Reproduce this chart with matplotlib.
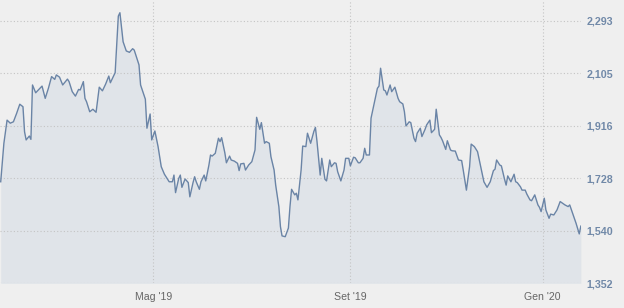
import matplotlib
matplotlib.use('Agg')
import matplotlib.pyplot as plt
import pandas as pd

plt.rcParams['font.family'] = ['Liberation Sans', 'DejaVu Sans']

# giorni dal 2019-01-01 e prezzi
days = [24, 26, 28, 30, 32, 34, 36, 38, 39, 40, 42, 43, 44, 46, 48, 50, 52, 54, 56, 58,
        59, 61, 63, 66, 67, 69, 71, 73, 74, 76, 77, 78, 80, 82, 84, 86, 88, 90, 92, 93,
        96, 98, 99, 101, 103, 105, 107, 108, 111, 112, 115, 116, 118, 119, 121, 123, 125, 127, 130, 132,
        133, 134, 136, 137, 138, 140, 142, 143, 145, 146, 147, 149, 150, 152, 153, 155, 156, 157, 159, 161,
        162, 163, 165, 166, 168, 169, 171, 173, 174, 175, 177, 178, 180, 182, 184, 185, 187, 188, 190, 191,
        193, 194, 196, 197, 199, 200, 201, 203, 205, 206, 207, 209, 210, 211, 213, 214, 216, 217, 219, 221,
        222, 223, 225, 226, 228, 229, 231, 232, 234, 235, 236, 238, 240, 241, 243, 244, 246, 247, 249, 250,
        252, 253, 254, 256, 257, 259, 261, 262, 263, 265, 266, 267, 269, 270, 272, 274, 275, 277, 278, 279,
        281, 282, 284, 285, 286, 288, 289, 291, 292, 294, 295, 297, 298, 300, 301, 302, 304, 305, 307, 308,
        310, 312, 314, 315, 317, 319, 320, 322, 324, 326, 328, 330, 332, 334, 335, 336, 338, 339, 341, 342,
        343, 345, 347, 348, 349, 351, 352, 354, 355, 357, 358, 360, 362, 363, 364, 366, 367, 369, 370, 372,
        374, 376, 377, 379, 381, 382, 384, 386, 388, 389]
prices = [1716, 1854, 1937, 1926, 1931, 1961, 1994, 1985, 1895, 1866, 1880, 1868, 2063, 2035, 2047, 2059, 2015, 2051, 2093, 2083,
          2099, 2091, 2063, 2084, 2075, 2039, 2023, 2047, 2045, 2075, 2015, 2003, 1967, 1976, 1965, 2055, 2042, 2066, 2095, 2071,
          2107, 2310, 2322, 2218, 2185, 2180, 2193, 2188, 2135, 2063, 2012, 1908, 1959, 1866, 1898, 1842, 1770, 1743, 1716, 1716,
          1740, 1677, 1728, 1740, 1696, 1726, 1713, 1662, 1713, 1734, 1716, 1689, 1716, 1740, 1719, 1776, 1812, 1808, 1818, 1872,
          1860, 1874, 1820, 1784, 1808, 1794, 1790, 1782, 1756, 1780, 1782, 1758, 1776, 1788, 1830, 1947, 1904, 1928, 1854, 1860,
          1854, 1806, 1758, 1704, 1627, 1555, 1522, 1519, 1550, 1627, 1689, 1669, 1675, 1651, 1758, 1844, 1842, 1890, 1854, 1896,
          1911, 1860, 1740, 1800, 1725, 1719, 1794, 1770, 1784, 1782, 1752, 1719, 1758, 1800, 1800, 1773, 1804, 1802, 1784, 1784,
          1800, 1836, 1812, 1812, 1944, 1997, 2051, 2059, 2123, 2045, 2042, 2027, 2063, 2039, 2055, 2015, 2003, 1995, 1967, 1916,
          1931, 1928, 1872, 1860, 1890, 1908, 1878, 1904, 1920, 1937, 1892, 1904, 1976, 1884, 1875, 1863, 1832, 1863, 1830, 1827,
          1826, 1794, 1792, 1758, 1686, 1770, 1851, 1842, 1824, 1770, 1716, 1696, 1716, 1756, 1761, 1794, 1776, 1773, 1725, 1704,
          1737, 1716, 1743, 1716, 1713, 1698, 1686, 1686, 1672, 1651, 1648, 1669, 1633, 1624, 1609, 1657, 1615, 1585, 1600, 1597,
          1615, 1645, 1641, 1633, 1627, 1633, 1600, 1567, 1529, 1557]

ytick_vals = [1352, 1540, 1728, 1916, 2105, 2293]
ytick_labels = ['1,352', '1,540', '1,728', '1,916', '2,105', '2,293']
# primo giorno di borsa del mese
xtick_dates = ['2019-05-01', '2019-09-02', '2020-01-01']
xtick_labels = ["Mag '19", "Set '19", "Gen '20"]

base = pd.Timestamp('2019-01-01')
dates = base + pd.to_timedelta(days, unit='D')

bg = '#efefef'
fig = plt.figure(figsize=(6.24, 3.08), dpi=100, facecolor=bg)
ax = fig.add_axes([0, 24.7 / 308, 581 / 624, 283.3 / 308])
ax.set_facecolor(bg)

ax.fill_between(dates, prices, 1352, color='#e0e4e9', zorder=1, linewidth=0)
ax.plot(dates, prices, color='#6a84a6', linewidth=1.0, zorder=3)

ax.set_xlim(base + pd.Timedelta(days=23.55), base + pd.Timedelta(days=389.1))
ax.set_ylim(1352, 2367.6)

ax.set_yticks(ytick_vals)
ax.set_yticklabels(ytick_labels)
ax.set_xticks(pd.to_datetime(xtick_dates))
ax.set_xticklabels(xtick_labels)

ax.yaxis.tick_right()
ax.tick_params(axis='y', length=0, pad=4, labelsize=7.7, labelcolor='#7189a8')
ax.tick_params(axis='x', length=0, pad=6.5, labelsize=7.6, labelcolor='#666666')
for lbl in ax.get_yticklabels():
    lbl.set_fontweight('bold')

ax.set_axisbelow(False)
ax.grid(True, color='#c4c4c4', linestyle=(0, (1, 2)), linewidth=0.8, zorder=2)
for s in ax.spines.values():
    s.set_visible(False)

fig.savefig('out.png', dpi=100, facecolor=bg)
